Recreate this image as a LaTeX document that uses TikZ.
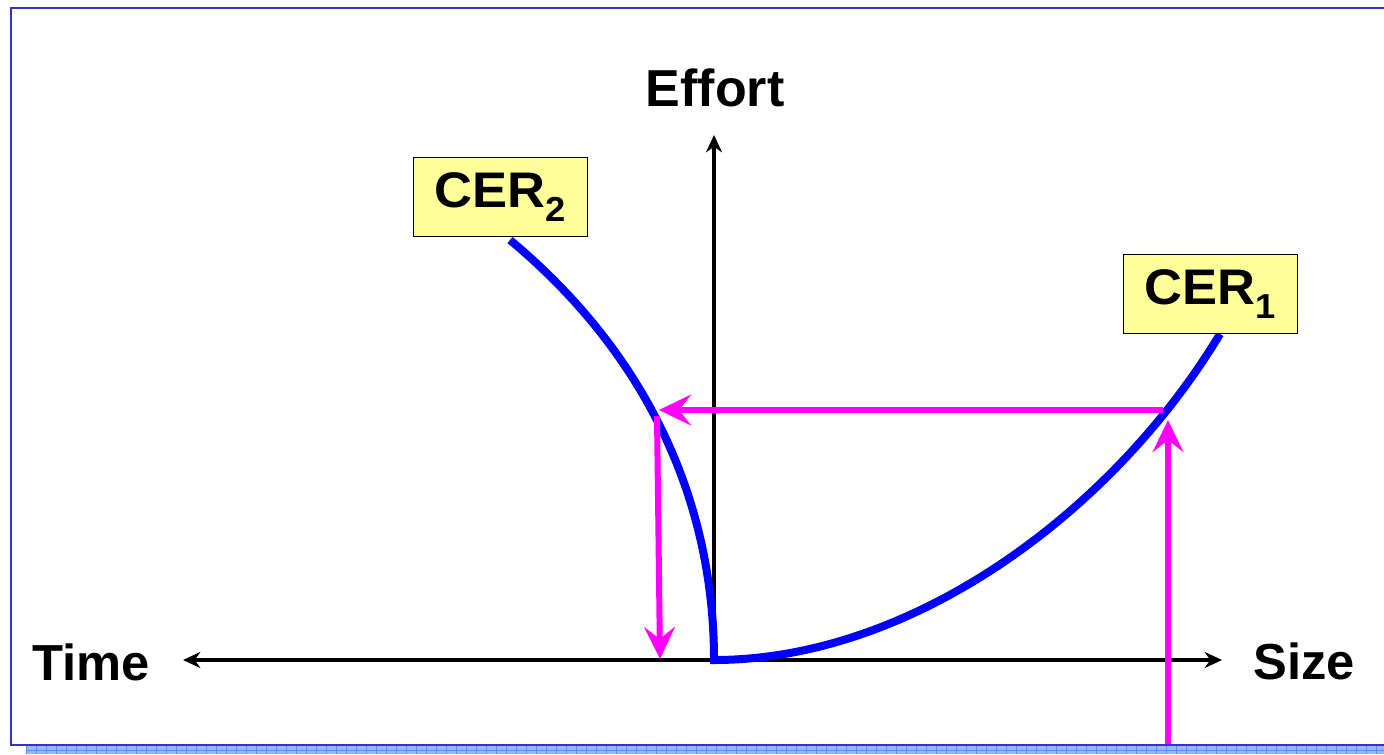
\documentclass[tikz,border=0pt]{standalone}
\usepackage{fontspec}
\setmainfont{Liberation Sans}
\newfontfamily\cerfont{Liberation Sans}[FakeStretch=1.05]
\usetikzlibrary{arrows.meta}

\definecolor{frameblue}{RGB}{51,51,204}
\definecolor{barblue}{RGB}{150,185,245}
\definecolor{barline}{RGB}{90,140,235}
\definecolor{cerblue}{RGB}{0,0,255}
\definecolor{guidepink}{RGB}{255,0,255}
\definecolor{boxyellow}{RGB}{255,255,153}

% lowered index of a CER label
\newcommand{\cersub}[1]{\raisebox{-10pt}{\fontsize{26}{26}\selectfont #1}}

\tikzset{
  axistip/.tip={Stealth[length=13pt,width=12pt]},
  axisline/.style={black, line width=2.4pt},
  axislabel/.style={font=\fontsize{38}{40}\selectfont\bfseries, inner sep=0pt},
  cerbox/.style={draw=black, line width=0.8pt, fill=boxyellow,
    minimum width=130pt, minimum height=59pt, inner sep=0pt,
    font=\cerfont\fontsize{37.5}{38}\selectfont\bfseries},
  cercurve/.style={cerblue, line width=6pt},
  guide/.style={guidepink, line width=4.5pt,
    -{Stealth[length=24pt,width=23pt,inset=9pt]}},
}

\begin{document}
\begin{tikzpicture}[x=0.75pt,y=-0.75pt]
  \useasboundingbox (0,0) rectangle (1384,754);

  % slide frame and bottom bar
  \fill[barblue] (26,746) rectangle (1384,754);
  \foreach \x in {26,36,...,1384}
    \draw[barline, line width=0.4pt] (\x,746) -- (\x,754);
  \draw[barline, line width=0.4pt] (26,750) -- (1384,750);
  \draw[frameblue, line width=1.6pt] (1384,8) -- (11,8) -- (11,745) -- (1384,745);

  % axes
  \coordinate (O) at (714,660);
  \coordinate (tleft) at (183,660);
  \coordinate (sright) at (1222,660);
  \coordinate (etop) at (714,135);
  \draw[axisline, axistip-axistip] (tleft) -- (sright);
  \draw[axisline, -axistip] (O) -- (etop);

  \node[axislabel, font=\fontsize{39}{40}\selectfont\bfseries] (effort) at (715,88) {Effort};
  \node[axislabel] (time) at (91,662) {Time};
  \node[axislabel] (size) at (1304,661) {Size};

  % the two CER curves
  \coordinate (cer2top) at (510,240);
  \coordinate (cer1top) at (1220,334);
  \draw[cercurve, line join=miter]
    (cer2top) .. controls (654,360) and (714,510) .. (O)
    .. controls (914,660) and (1114,510) .. (cer1top);

  \node[cerbox] (cer2) at (500.5,197) {\raisebox{3pt}{CER\cersub{2}}};
  \node[cerbox] (cer1) at (1210.5,294) {\raisebox{3pt}{CER\cersub{1}}};

  % size -> effort -> time
  \coordinate (sizein) at (1168,744);
  \coordinate (oncer1) at (1168,420);
  \coordinate (effr) at (1163,410);
  \coordinate (effl) at (659,410);
  \coordinate (oncer2) at (657,416);
  \coordinate (timeout) at (660,659);
  \draw[guide] (sizein) -- (oncer1);
  \draw[guide] (effr) -- (effl);
  \draw[guide] (oncer2) -- (timeout);
\end{tikzpicture}
\end{document}
